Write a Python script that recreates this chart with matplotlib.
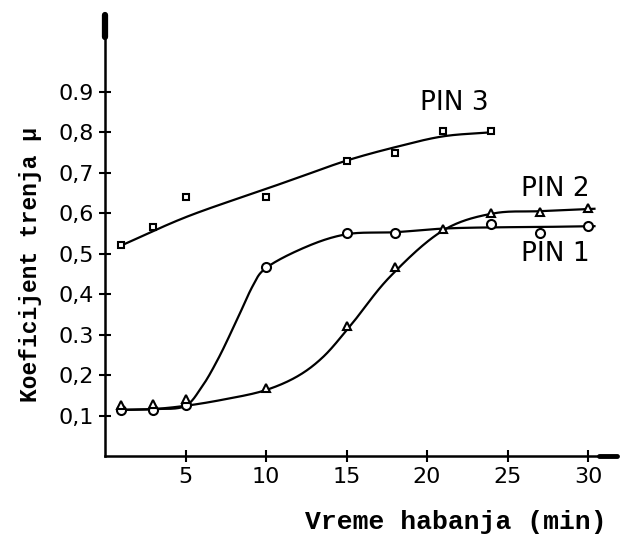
import numpy as np
import matplotlib
matplotlib.use("Agg")
import matplotlib.pyplot as plt

# measured points, time (min) vs friction coefficient
pin3_x = [1, 3, 5, 10, 15, 18, 21, 24]
pin3_y = [0.522, 0.567, 0.639, 0.639, 0.728, 0.75, 0.802, 0.802]

pin1_x = [1, 3, 5, 10, 15, 18, 24, 27, 30]
pin1_y = [0.114, 0.114, 0.126, 0.468, 0.552, 0.552, 0.574, 0.552, 0.569]

pin2_x = [1, 3, 5, 10, 15, 18, 21, 24, 27, 30]
pin2_y = [0.126, 0.129, 0.141, 0.168, 0.322, 0.468, 0.562, 0.600, 0.604, 0.614]

# hand drawn trend curves, knots
curve3_x = [1, 5, 10, 12, 15, 18, 21, 24]
curve3_y = [0.52, 0.59, 0.66, 0.688, 0.73, 0.763, 0.79, 0.80]

curve1_x = [1, 3, 5, 6, 7, 8.2, 9.2, 9.8, 12.5, 15, 18, 21, 24, 27, 30.4]
curve1_y = [0.114, 0.116, 0.124, 0.17, 0.238, 0.337, 0.422, 0.458, 0.517,
            0.548, 0.553, 0.562, 0.565, 0.566, 0.568]

curve2_x = [1, 3, 5, 7.3, 10, 12, 13.5, 15.2, 17.7, 21.2, 24.2, 27, 30.4]
curve2_y = [0.114, 0.116, 0.124, 0.139, 0.163, 0.198, 0.243, 0.32, 0.443,
            0.562, 0.60, 0.605, 0.611]

x_ticks = [5, 10, 15, 20, 25, 30]
y_ticks = [0.1, 0.2, 0.3, 0.4, 0.5, 0.6, 0.7, 0.8, 0.9]
y_tick_labels = ["0,1", "0,2", "0.3", "0,4", "0,5", "0,6", "0,7", "0,8", "0.9"]

SX, SY = 16.1, 404.0  # roughly pixels per unit, so the spline works in screen space


def smooth(xk, yk, n=40):
    # centripetal Catmull-Rom through the knots, only for drawing the pen line
    P = np.column_stack([np.asarray(xk, float) * SX, np.asarray(yk, float) * SY])
    P = np.vstack([2 * P[0] - P[1], P, 2 * P[-1] - P[-2]])
    out = []
    for i in range(1, len(P) - 2):
        p0, p1, p2, p3 = P[i - 1], P[i], P[i + 1], P[i + 2]
        t0 = 0.0
        t1 = t0 + np.linalg.norm(p1 - p0) ** 0.5
        t2 = t1 + np.linalg.norm(p2 - p1) ** 0.5
        t3 = t2 + np.linalg.norm(p3 - p2) ** 0.5
        t = np.linspace(t1, t2, n)[:, None]
        a1 = (t1 - t) / (t1 - t0) * p0 + (t - t0) / (t1 - t0) * p1
        a2 = (t2 - t) / (t2 - t1) * p1 + (t - t1) / (t2 - t1) * p2
        a3 = (t3 - t) / (t3 - t2) * p2 + (t - t2) / (t3 - t2) * p3
        b1 = (t2 - t) / (t2 - t0) * a1 + (t - t0) / (t2 - t0) * a2
        b2 = (t3 - t) / (t3 - t1) * a2 + (t - t1) / (t3 - t1) * a3
        out.append((t2 - t) / (t2 - t1) * b1 + (t - t1) / (t2 - t1) * b2)
    out = np.vstack(out)
    return out[:, 0] / SX, out[:, 1] / SY


fig = plt.figure(figsize=(6.31, 5.40), dpi=100)
ax = fig.add_axes([0.1664, 0.1556, 0.8114, 0.8167])

for cx, cy in [(curve3_x, curve3_y), (curve1_x, curve1_y), (curve2_x, curve2_y)]:
    xs, ys = smooth(cx, cy)
    ax.plot(xs, ys, color="black", lw=1.6, zorder=2)

mk = dict(color="none", markerfacecolor="white", markeredgecolor="black",
          markeredgewidth=1.5, zorder=3, clip_on=False)
ax.plot(pin3_x, pin3_y, marker="s", ms=5, **mk)
ax.plot(pin1_x, pin1_y, marker="o", ms=6.5, **mk)
ax.plot(pin2_x, pin2_y, marker="^", ms=6, **mk)

ax.text(21.7, 0.873, "PIN 3", fontsize=19, ha="center", va="center")
ax.text(28.0, 0.66, "PIN 2", fontsize=19, ha="center", va="center")
ax.text(28.0, 0.50, "PIN 1", fontsize=19, ha="center", va="center")

ax.set_xlim(0, 31.8)
ax.set_ylim(0, 1.09)
for s in ["top", "right"]:
    ax.spines[s].set_visible(False)
for s in ["left", "bottom"]:
    ax.spines[s].set_linewidth(1.8)

ax.set_xticks(x_ticks)
ax.set_yticks(y_ticks)
ax.set_yticklabels(y_tick_labels)
ax.tick_params(direction="inout", length=8, width=1.5, labelsize=16, pad=4)

# arrow ends of the axes
ax.plot([0, 0], [0.95, 1.0], transform=ax.transAxes, color="black", lw=4.5,
        solid_capstyle="round", clip_on=False)
ax.plot([0.965, 1.0], [0, 0], transform=ax.transAxes, color="black", lw=3.5,
        solid_capstyle="round", clip_on=False)

fig.text(0.723, 0.033, "Vreme habanja (min)", fontsize=19, family="Liberation Mono",
         fontweight="bold", ha="center", va="center")
fig.text(0.048, 0.51, "Koeficijent trenja \u03bc", fontsize=16.5, family="Liberation Mono",
         fontweight="bold", ha="center", va="center", rotation=90)

fig.savefig("out.png", dpi=100)
